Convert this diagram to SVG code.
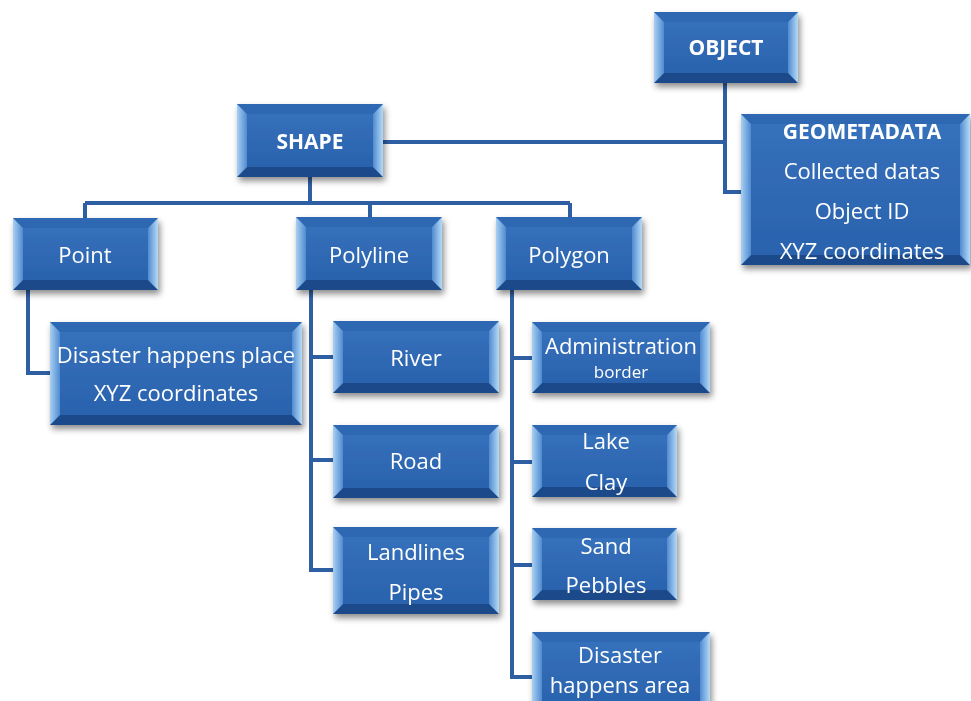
<svg xmlns="http://www.w3.org/2000/svg" width="971" height="701" viewBox="0 0 971 701">
<defs>
<filter id="sh" x="-10%" y="-10%" width="130%" height="140%"><feDropShadow dx="2" dy="4" stdDeviation="3" flood-color="#000" flood-opacity="0.45"/></filter>
<linearGradient id="face" x1="0" y1="0" x2="0" y2="1"><stop offset="0" stop-color="#3570bb"/><stop offset="1" stop-color="#2a62ad"/></linearGradient>
<linearGradient id="lb" x1="0" y1="0" x2="1" y2="0"><stop offset="0" stop-color="#a8d0f3"/><stop offset="1" stop-color="#4f8bd0"/></linearGradient>
<linearGradient id="rb" x1="0" y1="0" x2="1" y2="0"><stop offset="0" stop-color="#4f8bd0"/><stop offset="1" stop-color="#b5daf7"/></linearGradient>
</defs>
<style>
.frame{fill:#25599f}
.face{fill:url(#face)}
.lb{fill:url(#lb)}
.rb{fill:url(#rb)}
.tb{fill:#2f67b2}
.bb{fill:#1d4a8a}
.t{font-family:"Open Sans","Noto Sans",sans-serif;fill:#fff;font-size:22px;text-anchor:middle;dominant-baseline:central}
.b{font-weight:bold;font-size:21px}
.c{fill:none;stroke:#2f5fa3;stroke-width:4}
</style>
<rect width="971" height="701" fill="#fff"/>
<g id="connectors">
<path class="c" d="M383 142H725M725 83V192H741"/>
<path class="c" d="M310 177V203M85 203H570M85 203V218M370 203V217M570 203V217"/>
<path class="c" d="M28 290V373H50"/>
<path class="c" d="M311 290V570H333M311 357H333M311 460H333"/>
<path class="c" d="M512 290V677H532M512 358H532M512 462H532M512 565H532"/>
</g>
<g id="object" filter="url(#sh)">
<rect class="frame" x="654" y="12" width="144" height="71"/>
<polygon class="tb" points="654,12 798,12 788,22 664,22"/>
<polygon class="bb" points="654,83 798,83 788,73 664,73"/>
<polygon class="lb" points="654,12 664,22 664,73 654,83"/>
<polygon class="rb" points="798,12 788,22 788,73 798,83"/>
<rect class="face" x="664" y="22" width="124" height="51"/>
<text class="t b" x="726" y="47">OBJECT</text>
</g>
<g id="geometadata" filter="url(#sh)">
<rect class="frame" x="741" y="114" width="229" height="151"/>
<polygon class="tb" points="741,114 970,114 960,124 751,124"/>
<polygon class="bb" points="741,265 970,265 960,255 751,255"/>
<polygon class="lb" points="741,114 751,124 751,255 741,265"/>
<polygon class="rb" points="970,114 960,124 960,255 970,265"/>
<rect class="face" x="751" y="124" width="209" height="131"/>
<text class="t b" x="862" y="131">GEOMETADATA</text>
<text class="t" x="862" y="170">Collected datas</text>
<text class="t" x="862" y="210">Object ID</text>
<text class="t" x="862" y="250">XYZ coordinates</text>
</g>
<g id="shape" filter="url(#sh)">
<rect class="frame" x="237" y="104" width="146" height="73"/>
<polygon class="tb" points="237,104 383,104 373,114 247,114"/>
<polygon class="bb" points="237,177 383,177 373,167 247,167"/>
<polygon class="lb" points="237,104 247,114 247,167 237,177"/>
<polygon class="rb" points="383,104 373,114 373,167 383,177"/>
<rect class="face" x="247" y="114" width="126" height="53"/>
<text class="t b" x="310" y="141">SHAPE</text>
</g>
<g id="point" filter="url(#sh)">
<rect class="frame" x="13" y="218" width="145" height="72"/>
<polygon class="tb" points="13,218 158,218 148,228 23,228"/>
<polygon class="bb" points="13,290 158,290 148,280 23,280"/>
<polygon class="lb" points="13,218 23,228 23,280 13,290"/>
<polygon class="rb" points="158,218 148,228 148,280 158,290"/>
<rect class="face" x="23" y="228" width="125" height="52"/>
<text class="t" x="85" y="254">Point</text>
</g>
<g id="disaster-place" filter="url(#sh)">
<rect class="frame" x="50" y="322" width="252" height="103"/>
<polygon class="tb" points="50,322 302,322 292,332 60,332"/>
<polygon class="bb" points="50,425 302,425 292,415 60,415"/>
<polygon class="lb" points="50,322 60,332 60,415 50,425"/>
<polygon class="rb" points="302,322 292,332 292,415 302,425"/>
<rect class="face" x="60" y="332" width="232" height="83"/>
<text class="t" x="176" y="354">Disaster happens place</text>
<text class="t" x="176" y="392">XYZ coordinates</text>
</g>
<g id="polyline" filter="url(#sh)">
<rect class="frame" x="296" y="217" width="146" height="73"/>
<polygon class="tb" points="296,217 442,217 432,227 306,227"/>
<polygon class="bb" points="296,290 442,290 432,280 306,280"/>
<polygon class="lb" points="296,217 306,227 306,280 296,290"/>
<polygon class="rb" points="442,217 432,227 432,280 442,290"/>
<rect class="face" x="306" y="227" width="126" height="53"/>
<text class="t" x="369" y="254">Polyline</text>
</g>
<g id="polygon" filter="url(#sh)">
<rect class="frame" x="496" y="217" width="146" height="73"/>
<polygon class="tb" points="496,217 642,217 632,227 506,227"/>
<polygon class="bb" points="496,290 642,290 632,280 506,280"/>
<polygon class="lb" points="496,217 506,227 506,280 496,290"/>
<polygon class="rb" points="642,217 632,227 632,280 642,290"/>
<rect class="face" x="506" y="227" width="126" height="53"/>
<text class="t" x="569" y="254">Polygon</text>
</g>
<g id="river" filter="url(#sh)">
<rect class="frame" x="333" y="321" width="166" height="72"/>
<polygon class="tb" points="333,321 499,321 489,331 343,331"/>
<polygon class="bb" points="333,393 499,393 489,383 343,383"/>
<polygon class="lb" points="333,321 343,331 343,383 333,393"/>
<polygon class="rb" points="499,321 489,331 489,383 499,393"/>
<rect class="face" x="343" y="331" width="146" height="52"/>
<text class="t" x="416" y="357">River</text>
</g>
<g id="road" filter="url(#sh)">
<rect class="frame" x="333" y="425" width="166" height="73"/>
<polygon class="tb" points="333,425 499,425 489,435 343,435"/>
<polygon class="bb" points="333,498 499,498 489,488 343,488"/>
<polygon class="lb" points="333,425 343,435 343,488 333,498"/>
<polygon class="rb" points="499,425 489,435 489,488 499,498"/>
<rect class="face" x="343" y="435" width="146" height="53"/>
<text class="t" x="416" y="460">Road</text>
</g>
<g id="landlines" filter="url(#sh)">
<rect class="frame" x="333" y="527" width="166" height="87"/>
<polygon class="tb" points="333,527 499,527 489,537 343,537"/>
<polygon class="bb" points="333,614 499,614 489,604 343,604"/>
<polygon class="lb" points="333,527 343,537 343,604 333,614"/>
<polygon class="rb" points="499,527 489,537 489,604 499,614"/>
<rect class="face" x="343" y="537" width="146" height="67"/>
<text class="t" x="416" y="551">Landlines</text>
<text class="t" x="416" y="591">Pipes</text>
</g>
<g id="administration" filter="url(#sh)">
<rect class="frame" x="532" y="322" width="178" height="71"/>
<polygon class="tb" points="532,322 710,322 700,332 542,332"/>
<polygon class="bb" points="532,393 710,393 700,383 542,383"/>
<polygon class="lb" points="532,322 542,332 542,383 532,393"/>
<polygon class="rb" points="710,322 700,332 700,383 710,393"/>
<rect class="face" x="542" y="332" width="158" height="51"/>
<text class="t" x="621" y="345">Administration</text>
<text class="t" x="621" y="371" style="font-size:17px">border</text>
</g>
<g id="lake" filter="url(#sh)">
<rect class="frame" x="532" y="425" width="145" height="72"/>
<polygon class="tb" points="532,425 677,425 667,435 542,435"/>
<polygon class="bb" points="532,497 677,497 667,487 542,487"/>
<polygon class="lb" points="532,425 542,435 542,487 532,497"/>
<polygon class="rb" points="677,425 667,435 667,487 677,497"/>
<rect class="face" x="542" y="435" width="125" height="52"/>
<text class="t" x="606" y="440">Lake</text>
<text class="t" x="606" y="481">Clay</text>
</g>
<g id="sand" filter="url(#sh)">
<rect class="frame" x="532" y="528" width="145" height="72"/>
<polygon class="tb" points="532,528 677,528 667,538 542,538"/>
<polygon class="bb" points="532,600 677,600 667,590 542,590"/>
<polygon class="lb" points="532,528 542,538 542,590 532,600"/>
<polygon class="rb" points="677,528 667,538 667,590 677,600"/>
<rect class="face" x="542" y="538" width="125" height="52"/>
<text class="t" x="606" y="545">Sand</text>
<text class="t" x="606" y="584">Pebbles</text>
</g>
<g id="disaster-area" filter="url(#sh)">
<rect class="frame" x="532" y="632" width="178" height="76"/>
<polygon class="tb" points="532,632 710,632 700,642 542,642"/>
<polygon class="lb" points="532,632 542,642 542,708 532,708"/>
<polygon class="rb" points="710,632 700,642 700,708 710,708"/>
<rect class="face" x="542" y="642" width="158" height="66"/>
<text class="t" x="620" y="654">Disaster</text>
<text class="t" x="620" y="684">happens area</text>
</g>
</svg>
